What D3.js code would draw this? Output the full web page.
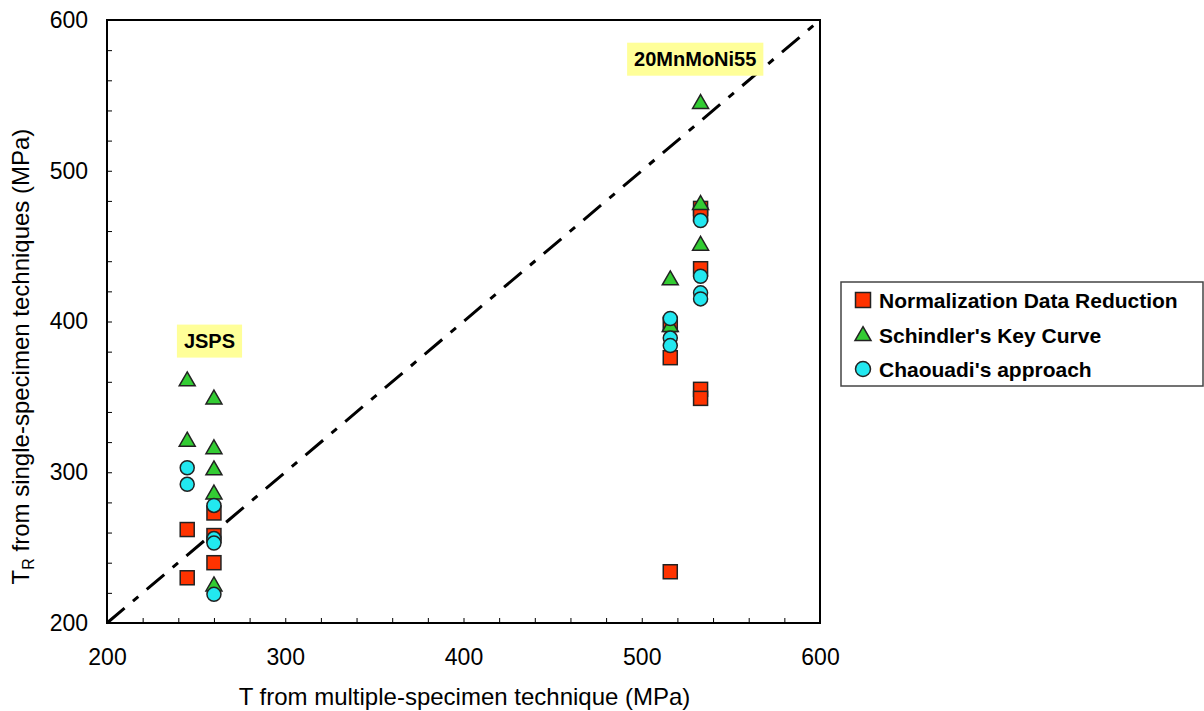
<!DOCTYPE html>
<html>
<head>
<meta charset="utf-8">
<script src="https://cdn.jsdelivr.net/npm/d3@7"></script>
<style>
  body { margin: 0; background: #fff; }
  text { font-family: "Liberation Sans", Arial, sans-serif; }
</style>
</head>
<body>
<script>
// data (MPa)
var ndrX = [245, 245, 260, 260, 260, 516, 516, 516, 533, 533, 533, 533, 533];
var ndrY = [262, 230, 273, 258, 240, 398, 376, 234, 475, 471, 435, 355, 349];

var keyX = [245, 245, 260, 260, 260, 260, 260, 516, 516, 533, 533, 533];
var keyY = [361, 321, 349, 316, 302, 286, 225, 428, 397, 545, 478, 451];

var chaX = [245, 245, 260, 260, 260, 260, 516, 516, 516, 533, 533, 533, 533];
var chaY = [303, 292, 278, 256, 253, 219, 402, 389, 384, 467, 430, 419, 415];

var seriesNames = ["Normalization Data Reduction", "Schindler's Key Curve", "Chaouadi's approach"];
var axisTicks = [200, 300, 400, 500, 600];
var labelText = ["JSPS", "20MnMoNi55"];
var labelX = [257.5, 530];
var labelY = [387, 574];

var margin = {top: 20, right: 384, bottom: 88, left: 107},
    width = 1204 - margin.left - margin.right,
    height = 711 - margin.top - margin.bottom;

var svg = d3.select("body").append("svg")
    .attr("width", 1204)
    .attr("height", 711);

var g = svg.append("g")
    .attr("transform", "translate(" + margin.left + "," + margin.top + ")");

var x = d3.scaleLinear().domain([200, 600]).range([0, width]);
var y = d3.scaleLinear().domain([200, 600]).range([height, 0]);

// minor ticks every 20, pointing inward
var minor = d3.range(200, 601, 20);
g.append("g")
    .attr("transform", "translate(0," + height + ")")
    .call(d3.axisTop(x).tickValues(minor).tickSize(5).tickFormat(""))
    .call(function(s) { s.select(".domain").remove(); s.selectAll("line").attr("stroke", "#000"); });
g.append("g")
    .call(d3.axisRight(y).tickValues(minor).tickSize(5).tickFormat(""))
    .call(function(s) { s.select(".domain").remove(); s.selectAll("line").attr("stroke", "#000"); });

// tick labels
g.append("g")
    .attr("transform", "translate(0," + height + ")")
    .call(d3.axisBottom(x).tickValues(axisTicks).tickSize(0).tickPadding(26))
    .call(function(s) {
        s.select(".domain").remove();
        s.selectAll("text").attr("font-size", 23).attr("fill", "#000")
            .style("font-family", "'Liberation Sans', Arial, sans-serif");
    });
g.append("g")
    .call(d3.axisLeft(y).tickValues(axisTicks).tickSize(0).tickPadding(19))
    .call(function(s) {
        s.select(".domain").remove();
        s.selectAll("text").attr("font-size", 23).attr("fill", "#000")
            .style("font-family", "'Liberation Sans', Arial, sans-serif");
    });

// frame
g.append("rect")
    .attr("width", width).attr("height", height)
    .attr("fill", "none").attr("stroke", "#000").attr("stroke-width", 2);

// 1:1 line
g.append("line")
    .attr("x1", x(200)).attr("y1", y(200))
    .attr("x2", x(600)).attr("y2", y(600))
    .attr("stroke", "#000").attr("stroke-width", 3)
    .attr("stroke-dasharray", "23,11,7,11");

// labels on yellow
labelText.forEach(function(t, i) {
    var lg = g.append("g");
    var tx = lg.append("text")
        .attr("x", x(labelX[i])).attr("y", y(labelY[i]))
        .attr("dy", "0.35em")
        .attr("text-anchor", "middle")
        .attr("font-size", 20).attr("font-weight", "bold")
        .text(t);
    var bb = tx.node().getBBox();
    lg.insert("rect", "text")
        .attr("x", bb.x - 7).attr("y", y(labelY[i]) - 16.5)
        .attr("width", bb.width + 14).attr("height", 33)
        .attr("fill", "#ffff99");
});

var sq = 14, cr = 7;
var trianglePath = function(cx, cy, s) {
    var h = s * 0.87;
    return "M" + cx + "," + (cy - h * 0.6) + "L" + (cx + s / 2) + "," + (cy + h * 0.4) +
        "L" + (cx - s / 2) + "," + (cy + h * 0.4) + "Z";
};

// squares
g.append("g").selectAll("rect")
    .data(d3.zip(ndrX, ndrY))
    .enter().append("rect")
    .attr("x", function(d) { return x(d[0]) - sq / 2; })
    .attr("y", function(d) { return y(d[1]) - sq / 2; })
    .attr("width", sq).attr("height", sq)
    .attr("fill", "#ff3300").attr("stroke", "#222").attr("stroke-width", 1.5);

// triangles
g.append("g").selectAll("path")
    .data(d3.zip(keyX, keyY))
    .enter().append("path")
    .attr("d", function(d) { return trianglePath(x(d[0]), y(d[1]), 16); })
    .attr("fill", "#33cc33").attr("stroke", "#222").attr("stroke-width", 1.5);

// circles
g.append("g").selectAll("circle")
    .data(d3.zip(chaX, chaY))
    .enter().append("circle")
    .attr("cx", function(d) { return x(d[0]); })
    .attr("cy", function(d) { return y(d[1]); })
    .attr("r", cr)
    .attr("fill", "#22e8f0").attr("stroke", "#222").attr("stroke-width", 1.5);

// axis titles
svg.append("text")
    .attr("x", margin.left + width / 2 + 1).attr("y", 705)
    .attr("text-anchor", "middle").attr("font-size", 24)
    .text("T from multiple-specimen technique (MPa)");

var yt = svg.append("text")
    .attr("transform", "translate(29," + (margin.top + height / 2 + 35) + ") rotate(-90)")
    .attr("text-anchor", "middle").attr("font-size", 24);
yt.append("tspan").text("T");
yt.append("tspan").attr("font-size", 16).attr("dy", 5).text("R");
yt.append("tspan").attr("dy", -5).text(" from single-specimen techniques (MPa)");

// legend
var legend = svg.append("g").attr("transform", "translate(841,282)");
legend.append("rect")
    .attr("width", 362).attr("height", 104)
    .attr("fill", "#fff").attr("stroke", "#444").attr("stroke-width", 1.5);
var rowY = [18, 53, 87];
legend.append("rect").attr("x", 22 - 7.5).attr("y", rowY[0] - 7.5).attr("width", 15).attr("height", 15)
    .attr("fill", "#ff3300").attr("stroke", "#222").attr("stroke-width", 1.5);
legend.append("path").attr("d", trianglePath(22, rowY[1], 16))
    .attr("fill", "#33cc33").attr("stroke", "#222").attr("stroke-width", 1.5);
legend.append("circle").attr("cx", 22).attr("cy", rowY[2]).attr("r", 7.5)
    .attr("fill", "#22e8f0").attr("stroke", "#222").attr("stroke-width", 1.5);
legend.selectAll("text.lab")
    .data(seriesNames)
    .enter().append("text")
    .attr("class", "lab")
    .attr("x", 38).attr("y", function(d, i) { return rowY[i]; })
    .attr("dy", "0.36em")
    .attr("font-size", 21).attr("font-weight", "bold")
    .text(function(d) { return d; });
</script>
</body>
</html>
